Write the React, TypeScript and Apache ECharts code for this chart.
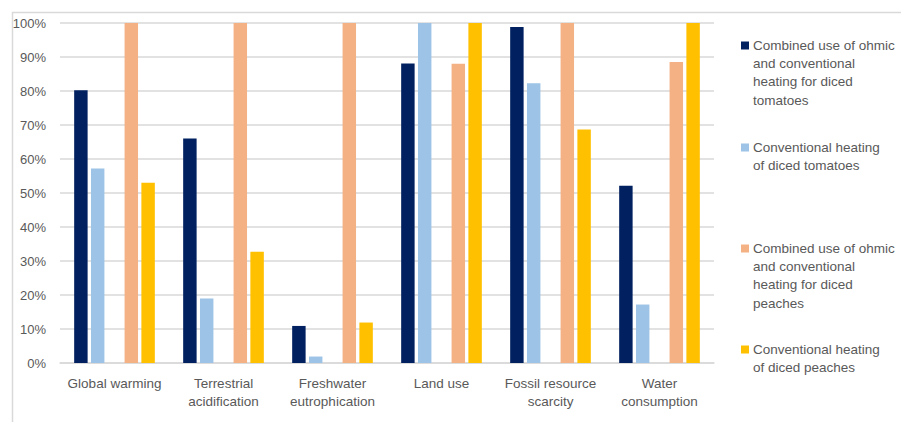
import React, { useEffect, useRef } from "react";
import * as echarts from "echarts";

// Impact categories on the x axis
const categories = [
  "Global warming",
  "Terrestrial\nacidification",
  "Freshwater\neutrophication",
  "Land use",
  "Fossil resource\nscarcity",
  "Water\nconsumption",
];

// Relative impact (%) per process
const ohmicTomatoes = [80.2, 66.0, 10.9, 88.1, 98.8, 52.1];
const conventionalTomatoes = [57.2, 19.0, 1.9, 100, 82.3, 17.2];
const ohmicPeaches = [100, 100, 100, 88.0, 100, 88.5];
const conventionalPeaches = [53.0, 32.7, 11.9, 100, 68.7, 100];

const seriesNames = [
  "Combined use of ohmic\nand conventional\nheating for diced\ntomatoes",
  "Conventional heating\nof diced tomatoes",
  "Combined use of ohmic\nand conventional\nheating for diced\npeaches",
  "Conventional heating\nof diced peaches",
];
const seriesColors = ["#002060", "#9DC3E6", "#F4B183", "#FFC000"];

const yTicks = [0, 10, 20, 30, 40, 50, 60, 70, 80, 90, 100];

const FONT = "'Liberation Sans', Arial, sans-serif";
const TEXT = "#595959";
const LINE = "#D9D9D9";

export default function App() {
  const ref = useRef<HTMLDivElement>(null);

  useEffect(() => {
    if (!ref.current) return;
    const chart = echarts.init(ref.current, undefined, { renderer: "svg" });

    const bar = (name: string, data: (number | null)[], color: string) => ({
      type: "bar" as const,
      name,
      data,
      itemStyle: { color },
      barGap: "25%",
      barCategoryGap: "26%",
    });

    // empty slot between the tomato pair and the peach pair
    const gap = categories.map(() => null);

    const legendTops = [36, 138, 239, 340];
    const legendItems = seriesNames.map((name, i) => ({
      type: "group" as const,
      left: 741,
      top: legendTops[i],
      children: [
        {
          type: "rect" as const,
          shape: { x: 0, y: 5.5, width: 8, height: 8 },
          style: { fill: seriesColors[i] },
        },
        {
          type: "text" as const,
          x: 12,
          y: 0,
          style: {
            text: name,
            font: `13.5px ${FONT}`,
            fill: TEXT,
            lineHeight: 18.3,
            verticalAlign: "top",
          },
        },
      ],
    }));

    chart.setOption({
      animation: false,
      textStyle: { fontFamily: FONT },
      grid: { left: 60, right: 187, top: 23, bottom: 59, containLabel: false },
      xAxis: {
        type: "category",
        data: categories,
        axisLine: { lineStyle: { color: LINE, width: 1.5 } },
        axisTick: { show: false },
        axisLabel: {
          color: TEXT,
          fontSize: 13.5,
          lineHeight: 18.3,
          margin: 11,
          interval: 0,
          fontFamily: FONT,
        },
      },
      yAxis: {
        type: "value",
        min: yTicks[0],
        max: yTicks[yTicks.length - 1],
        interval: 10,
        axisLine: { show: false },
        axisTick: { show: false },
        splitLine: { lineStyle: { color: LINE, width: 1.5 } },
        axisLabel: {
          color: TEXT,
          fontSize: 13,
          margin: 14,
          formatter: "{value}%",
          fontFamily: FONT,
        },
      },
      series: [
        bar(seriesNames[0], ohmicTomatoes, seriesColors[0]),
        bar(seriesNames[1], conventionalTomatoes, seriesColors[1]),
        bar("gap", gap, "transparent"),
        bar(seriesNames[2], ohmicPeaches, seriesColors[2]),
        bar(seriesNames[3], conventionalPeaches, seriesColors[3]),
      ],
      graphic: [
        {
          type: "rect",
          left: 10,
          top: 10,
          silent: true,
          shape: { x: 0, y: 0, width: 1000, height: 1000 },
          style: { fill: "none", stroke: LINE, lineWidth: 1.5 },
        },
        ...legendItems,
      ],
    });

    return () => chart.dispose();
  }, []);

  return (
    <div
      ref={ref}
      style={{ position: "fixed", left: 0, top: 0, width: 901, height: 422, background: "#fff" }}
    />
  );
}
